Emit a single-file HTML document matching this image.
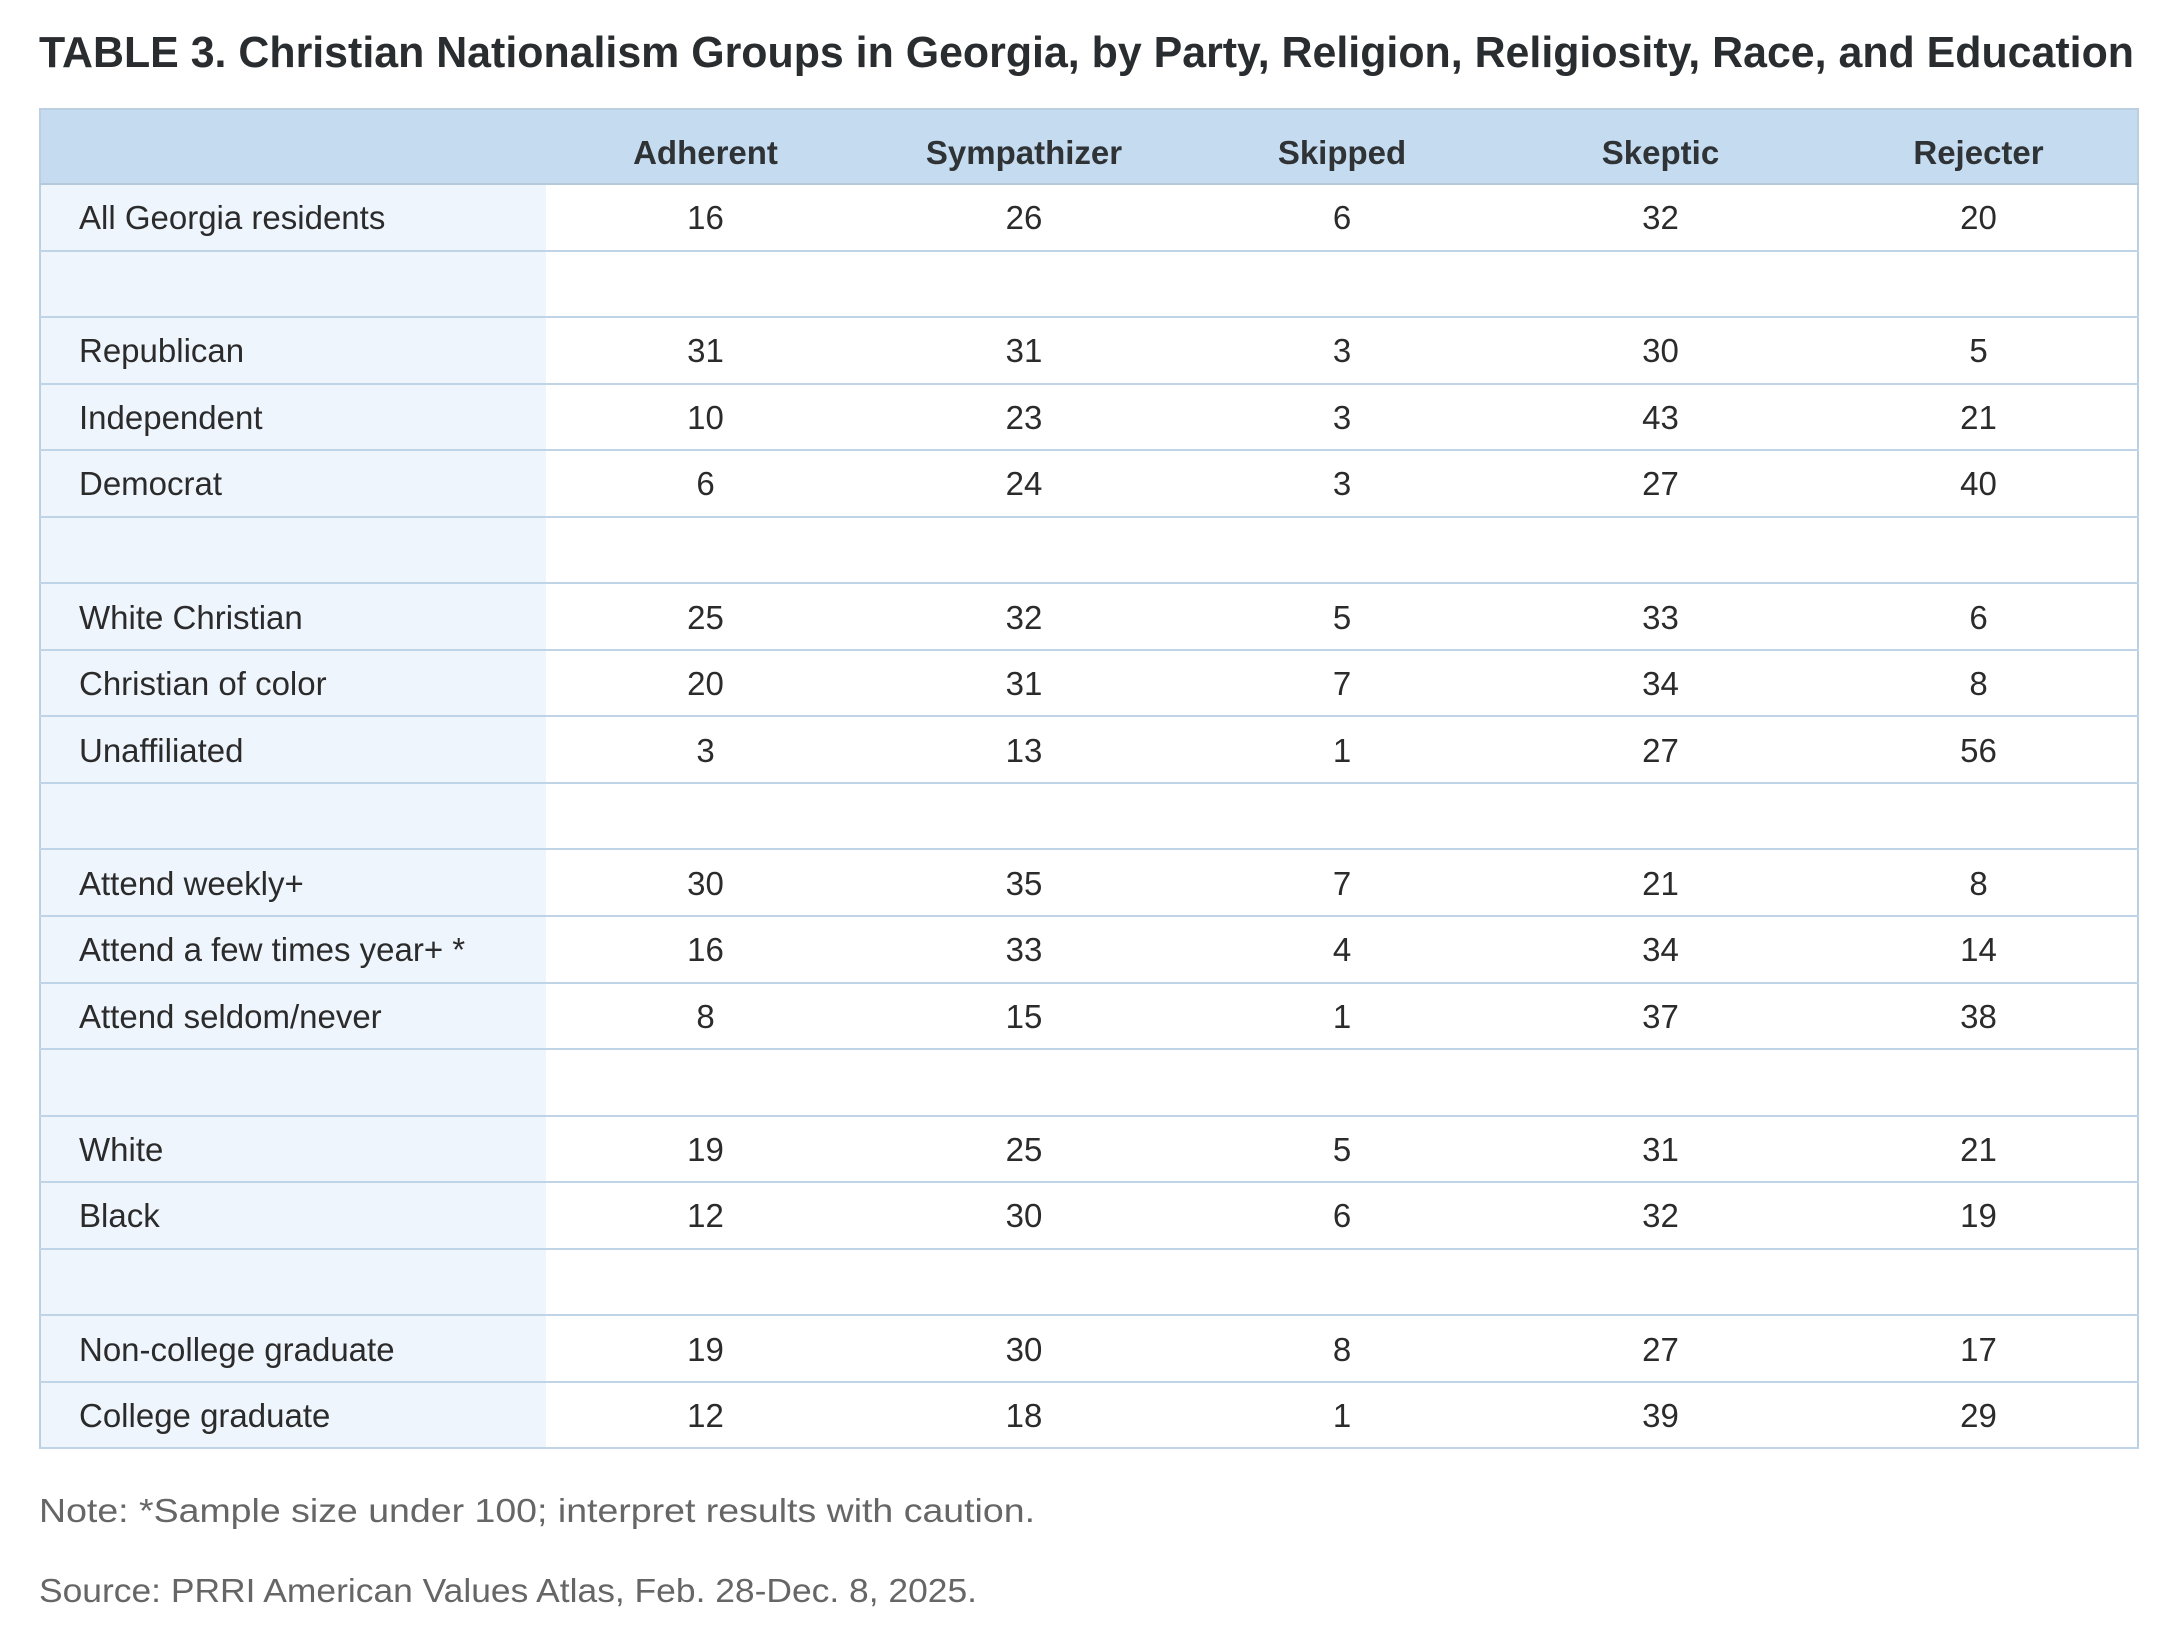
<!DOCTYPE html>
<html><head><meta charset="utf-8"><style>
body{margin:0;width:2176px;height:1645px;background:#fff;font-family:"Liberation Sans",sans-serif;color:#2b2b2b;position:relative;overflow:hidden}
.fit{position:absolute;left:39px;white-space:nowrap;transform-origin:0 0}
#title{top:28px;font-weight:bold;font-size:44px;color:#2a2d30}
#note{top:1492px;font-size:33px;color:#666}
#src{top:1572px;font-size:33px;color:#666}
table{position:absolute;left:39px;top:108px;width:2098px;border-collapse:collapse;border:2px solid #bccfe0;table-layout:fixed}
th{background:#c5dbf0;height:75px;font-size:33px;font-weight:bold;color:#2f3336;padding-top:14px;box-sizing:border-box;border-bottom:2px solid #b6c9db}
td{height:66.55px;font-size:33px;text-align:center;border-bottom:2px solid #bfd4e6;padding:2px 0 0 0;box-sizing:border-box;color:#2b2b2b}
td:first-child{background:#eff5fd;text-align:left;padding-left:38px}
</style></head><body>
<div id="title" class="fit" data-w="2095">TABLE 3. Christian Nationalism Groups in Georgia, by Party, Religion, Religiosity, Race, and Education</div>
<table>
<colgroup><col style="width:506px"><col style="width:319px"><col style="width:318px"><col style="width:318px"><col style="width:319px"><col style="width:318px"></colgroup>
<tr><th></th><th>Adherent</th><th>Sympathizer</th><th>Skipped</th><th>Skeptic</th><th>Rejecter</th></tr>
<tr><td>All Georgia residents</td><td>16</td><td>26</td><td>6</td><td>32</td><td>20</td></tr>
<tr><td></td><td></td><td></td><td></td><td></td><td></td></tr>
<tr><td>Republican</td><td>31</td><td>31</td><td>3</td><td>30</td><td>5</td></tr>
<tr><td>Independent</td><td>10</td><td>23</td><td>3</td><td>43</td><td>21</td></tr>
<tr><td>Democrat</td><td>6</td><td>24</td><td>3</td><td>27</td><td>40</td></tr>
<tr><td></td><td></td><td></td><td></td><td></td><td></td></tr>
<tr><td>White Christian</td><td>25</td><td>32</td><td>5</td><td>33</td><td>6</td></tr>
<tr><td>Christian of color</td><td>20</td><td>31</td><td>7</td><td>34</td><td>8</td></tr>
<tr><td>Unaffiliated</td><td>3</td><td>13</td><td>1</td><td>27</td><td>56</td></tr>
<tr><td></td><td></td><td></td><td></td><td></td><td></td></tr>
<tr><td>Attend weekly+</td><td>30</td><td>35</td><td>7</td><td>21</td><td>8</td></tr>
<tr><td>Attend a few times year+ *</td><td>16</td><td>33</td><td>4</td><td>34</td><td>14</td></tr>
<tr><td>Attend seldom/never</td><td>8</td><td>15</td><td>1</td><td>37</td><td>38</td></tr>
<tr><td></td><td></td><td></td><td></td><td></td><td></td></tr>
<tr><td>White</td><td>19</td><td>25</td><td>5</td><td>31</td><td>21</td></tr>
<tr><td>Black</td><td>12</td><td>30</td><td>6</td><td>32</td><td>19</td></tr>
<tr><td></td><td></td><td></td><td></td><td></td><td></td></tr>
<tr><td>Non-college graduate</td><td>19</td><td>30</td><td>8</td><td>27</td><td>17</td></tr>
<tr><td>College graduate</td><td>12</td><td>18</td><td>1</td><td>39</td><td>29</td></tr>
</table>
<div id="note" class="fit" data-w="996">Note: *Sample size under 100; interpret results with caution.</div>
<div id="src" class="fit" data-w="938">Source: PRRI American Values Atlas, Feb. 28-Dec. 8, 2025.</div>
<script>
document.querySelectorAll('.fit').forEach(function(e){var w=e.getBoundingClientRect().width;var t=+e.getAttribute('data-w');e.style.transform='scaleX('+(t/w)+')';});
</script>
</body></html>
